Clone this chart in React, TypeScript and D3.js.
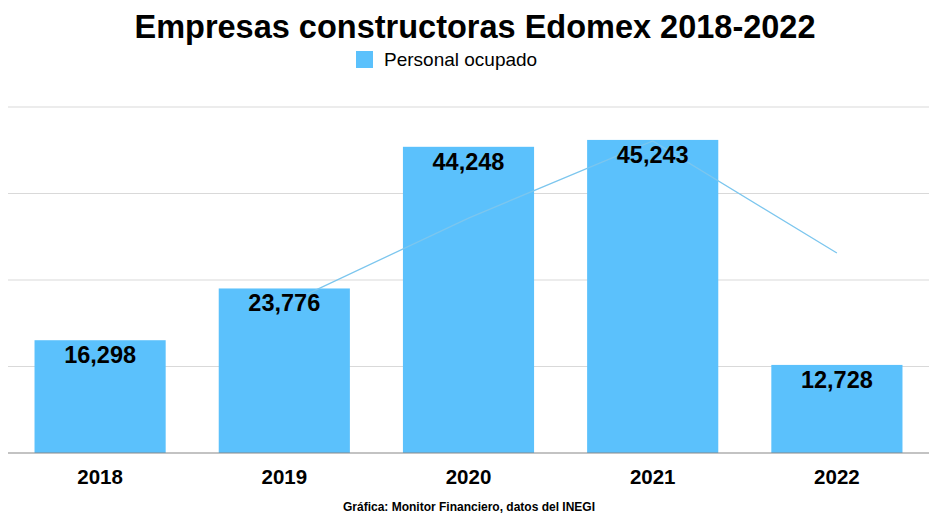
import * as d3 from 'd3';
import * as React from 'react';

const years: string[] = ['2018', '2019', '2020', '2021', '2022'];
const personal: number[] = [16298, 23776, 44248, 45243, 12728];
// thin overlay line seen on the picture (no legend entry)
const lineYears: string[] = ['2019', '2020', '2021', '2022'];
const lineValues: number[] = [21400, 33950, 45100, 28900];
const yTicks: number[] = [0, 12500, 25000, 37500, 50000];

const W = 951;
const H = 532;
const BAR = '#5bc1fc';
const FONT = '"Liberation Sans", Arial, sans-serif';

export default function App() {
  const x = d3.scaleBand<string>().domain(years).range([8, 929]).paddingInner(0.288).paddingOuter(0.144);
  const y = d3.scaleLinear().domain([0, 50000]).range([453, 107]);
  const line = d3
    .line<number>()
    .x((_, i) => (x(lineYears[i]) as number) + x.bandwidth() / 2)
    .y((d) => y(d));
  const fmt = d3.format(',');

  return (
    <svg width={W} height={H} style={{ position: 'absolute', left: 0, top: 0, fontFamily: FONT }}>
      <rect width={W} height={H} fill="#fff" />
      <text x={475} y={38} textAnchor="middle" fontSize={32.5} fontWeight="bold" fill="#000">
        Empresas constructoras Edomex 2018-2022
      </text>
      <rect x={356} y={51} width={17} height={17} fill={BAR} />
      <text x={384} y={66} fontSize={19} fill="#000">Personal ocupado</text>

      {yTicks.slice(1).map((t) => (
        <line key={t} x1={8} x2={929} y1={y(t)} y2={y(t)} stroke="#d9d9d9" strokeWidth={1} />
      ))}

      {years.map((yr, i) => (
        <rect key={yr} x={x(yr)} y={y(personal[i])} width={x.bandwidth()} height={y(0) - y(personal[i])} fill={BAR} />
      ))}

      <path d={line(lineValues) || ''} fill="none" stroke="#7cc6ee" strokeWidth={1.3} />

      <line x1={8} x2={929} y1={y(0)} y2={y(0)} stroke="#888" strokeWidth={1.2} />

      {years.map((yr, i) => (
        <text key={'v' + yr} x={(x(yr) as number) + x.bandwidth() / 2} y={y(personal[i]) + 23}
          textAnchor="middle" fontSize={23.5} fontWeight="bold" fill="#000">
          {fmt(personal[i])}
        </text>
      ))}

      {years.map((yr) => (
        <text key={'x' + yr} x={(x(yr) as number) + x.bandwidth() / 2} y={484}
          textAnchor="middle" fontSize={20.5} fontWeight="bold" fill="#000">
          {yr}
        </text>
      ))}

      <text x={469} y={511} textAnchor="middle" fontSize={12} fontWeight="bold" fill="#000">
        Gráfica: Monitor Financiero, datos del INEGI
      </text>
    </svg>
  );
}
